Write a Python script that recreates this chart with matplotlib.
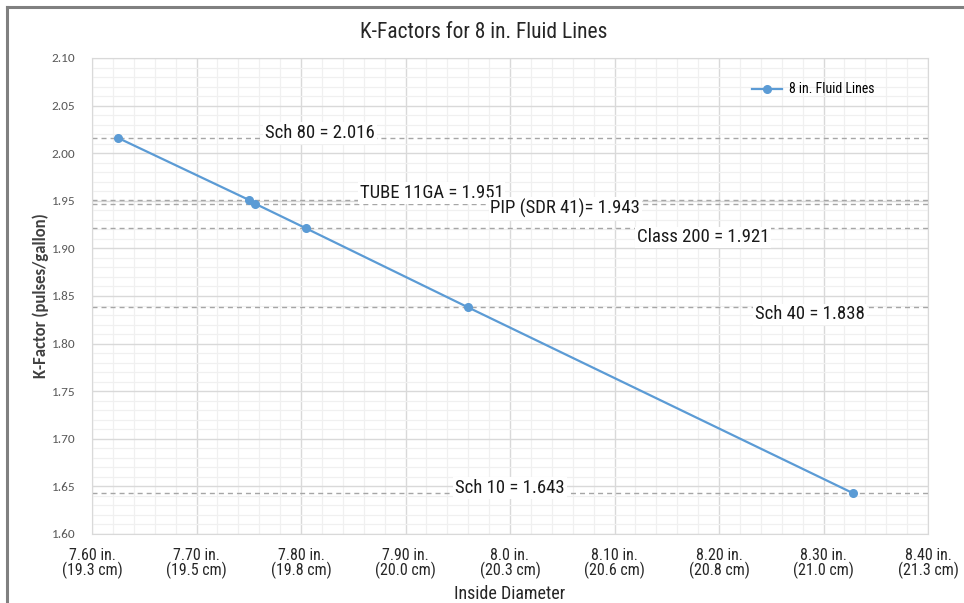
import matplotlib
matplotlib.use("Agg")
import matplotlib.pyplot as plt
from matplotlib import font_manager
from matplotlib.lines import Line2D
from matplotlib.ticker import MultipleLocator

# data
inside_diam = [7.625, 7.750, 7.756, 7.805, 7.960, 8.328]
k_factor = [2.016, 1.951, 1.947, 1.921, 1.838, 1.643]
pipe_labels = ["Sch 80 = 2.016", "TUBE 11GA = 1.951", "PIP (SDR 41)= 1.943",
               "Class 200 = 1.921", "Sch 40 = 1.838", "Sch 10 = 1.643"]
x_ticks = [7.60, 7.70, 7.80, 7.90, 8.00, 8.10, 8.20, 8.30, 8.40]
x_tick_labels = ["7.60 in.\n(19.3 cm)", "7.70 in.\n(19.5 cm)", "7.80 in.\n(19.8 cm)",
                 "7.90 in.\n(20.0 cm)", "8.0 in.\n(20.3 cm)", "8.10 in.\n(20.6 cm)",
                 "8.20 in.\n(20.8 cm)", "8.30 in.\n(21.0 cm)", "8.40 in.\n(21.3 cm)"]

# where each label sits: x in data units, y offset from its line in pixels
label_x = [7.818, 7.925, 8.053, 8.185, 8.287, 8.000]
label_dy = [5, 7, -5, -9, -7, 5]


def pick_font(names):
    have = {f.name for f in font_manager.fontManager.ttflist}
    for n in names:
        if n in have:
            return n
    return "DejaVu Sans"


narrow = pick_font(["Liberation Sans Narrow", "Roboto Condensed", "Liberation Sans"])
calib = pick_font(["Carlito", "Open Sans", "Noto Sans"])

blue = "#5B9BD5"
fig = plt.figure(figsize=(9.64, 6.03), dpi=100)
ax = fig.add_axes([92 / 964, 1 - 534 / 603, 836 / 964, 476 / 603])

ax.set_xlim(7.60, 8.40)
ax.set_ylim(1.60, 2.10)
ax.xaxis.set_major_locator(MultipleLocator(0.1))
ax.xaxis.set_minor_locator(MultipleLocator(0.02))
ax.yaxis.set_major_locator(MultipleLocator(0.05))
ax.yaxis.set_minor_locator(MultipleLocator(0.01))
ax.grid(which="major", color="#D9D9D9", lw=1)
ax.grid(which="minor", color="#F0F0F0", lw=0.9)
ax.set_axisbelow(True)
for s in ax.spines.values():
    s.set_color("#D9D9D9")

# reference lines with their labels
for v, txt, lx, dy in zip(k_factor, pipe_labels, label_x, label_dy):
    ax.axhline(v, color="#A6A6A6", lw=1, linestyle=(0, (3.6, 2.9)), zorder=1.5)
    ax.annotate(txt, xy=(lx, v), xytext=(0, dy * 0.72), textcoords="offset points",
                ha="center", va="center", fontsize=13.5, family=narrow, color="#1a1a1a",
                bbox=dict(boxstyle="square,pad=0.1", fc="white", ec="none"), zorder=2)

ax.plot(inside_diam, k_factor, color=blue, lw=1.6, marker="o", ms=5.5,
        label="8 in. Fluid Lines", zorder=3)

ax.set_xticks(x_ticks)
ax.set_xticklabels(x_tick_labels, family=narrow, fontsize=11.5, color="#262626", linespacing=0.95)
ax.set_yticks([1.60 + 0.05 * i for i in range(11)])
ax.set_yticklabels([f"{1.60 + 0.05 * i:.2f}" for i in range(11)], family=calib,
                   fontsize=9.5, color="#595959")
ax.tick_params(which="both", length=0)
ax.tick_params(axis="x", pad=10)
ax.tick_params(axis="y", pad=12)

ax.set_xlabel("Inside Diameter", family=narrow, fontsize=13, color="#262626", labelpad=4)
ax.set_ylabel("K-Factor (pulses/gallon)", family=calib, fontsize=12, fontweight="bold",
              color="#404040", labelpad=2)
fig.text(0.502, 1 - 32 / 603, "K-Factors for 8 in. Fluid Lines", ha="center", va="center",
         family=narrow, fontsize=15.5, color="#262626")

ax.legend(loc="upper left", bbox_to_anchor=(0.775, 0.975), frameon=False,
          prop={"family": narrow, "size": 10}, handlelength=2.1, handletextpad=0.5)

# grey frame at left and top
fig.add_artist(Line2D([7 / 964, 7 / 964], [0, 1 - 7 / 603], transform=fig.transFigure,
                      color="#808080", lw=2.2))
fig.add_artist(Line2D([7 / 964, 1], [1 - 7 / 603, 1 - 7 / 603], transform=fig.transFigure,
                      color="#808080", lw=2.2))

fig.savefig("out.png", dpi=100)
